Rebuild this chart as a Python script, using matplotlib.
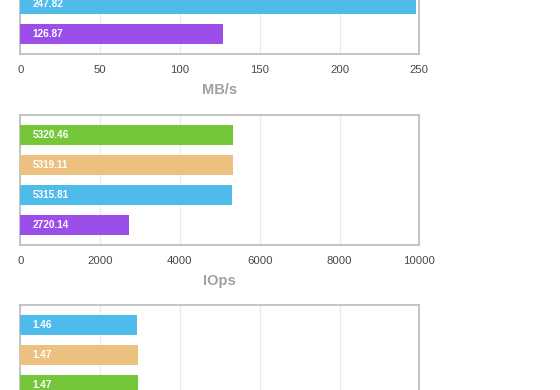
import matplotlib.pyplot as plt

plt.rcParams['font.family'] = ['Liberation Sans', 'DejaVu Sans']

colores = {"verde": "#76c639", "tan": "#ecc17f", "azul": "#4fbbeb", "morado": "#9b4fe8"}

# Grafico de arriba (MB/s), solo se ven las dos ultimas barras
mbs_colores = ["azul", "morado"]
mbs_valores = [247.82, 126.87]
mbs_slots = [2, 3]
mbs_ticks = [0, 50, 100, 150, 200, 250]

# Grafico del medio (IOps)
iops_colores = ["verde", "tan", "azul", "morado"]
iops_valores = [5320.46, 5319.11, 5315.81, 2720.14]
iops_ticks = [0, 2000, 4000, 6000, 8000, 10000]

# Grafico de abajo (latencia), cortado por abajo
lat_colores = ["azul", "tan", "verde"]
lat_valores = [1.46, 1.47, 1.47]
lat_ticks = [0, 1, 2, 3, 4, 5]

W, H = 560, 390
fig = plt.figure(figsize=(W / 100, H / 100), dpi=100)


def crear_eje(top_px, valores, cols, slots, ticks, etiqueta):
    x0, ancho, alto = 20.3, 399, 130
    ax = fig.add_axes([x0 / W, (H - top_px - alto) / H, ancho / W, alto / H])
    ax.barh(slots, valores, height=0.667, color=[colores[c] for c in cols], zorder=3)
    for s, v in zip(slots, valores):
        ax.text(ticks[-1] * 0.03, s, f"{v:.2f}", color="white", fontsize=7.2,
                fontweight="bold", va="center", ha="left", zorder=4)
    ax.set_xlim(ticks[0], ticks[-1])
    ax.set_ylim(3.667, -0.667)
    ax.set_xticks(ticks)
    ax.set_yticks([])
    ax.grid(axis="x", color="#ebebeb", linewidth=1, zorder=0)
    for sp in ax.spines.values():
        sp.set_color("#bbbbbb")
        sp.set_linewidth(1.2)
    ax.tick_params(axis="x", length=0, pad=8, labelsize=8.2, labelcolor="#474747")
    if etiqueta:
        ax.set_xlabel(etiqueta, fontsize=10.5, color="#a0a0a0", fontweight="bold", labelpad=6)
    else:
        # el grafico de abajo esta cortado, no se ven sus ticks
        ax.tick_params(axis="x", labelbottom=False)
    return ax


crear_eje(54 - 130, mbs_valores, mbs_colores, mbs_slots, mbs_ticks, "MB/s")
crear_eje(115, iops_valores, iops_colores, [0, 1, 2, 3], iops_ticks, "IOps")
crear_eje(305.3, lat_valores, lat_colores, [0, 1, 2], lat_ticks, None)

fig.savefig("out.png", dpi=100)
